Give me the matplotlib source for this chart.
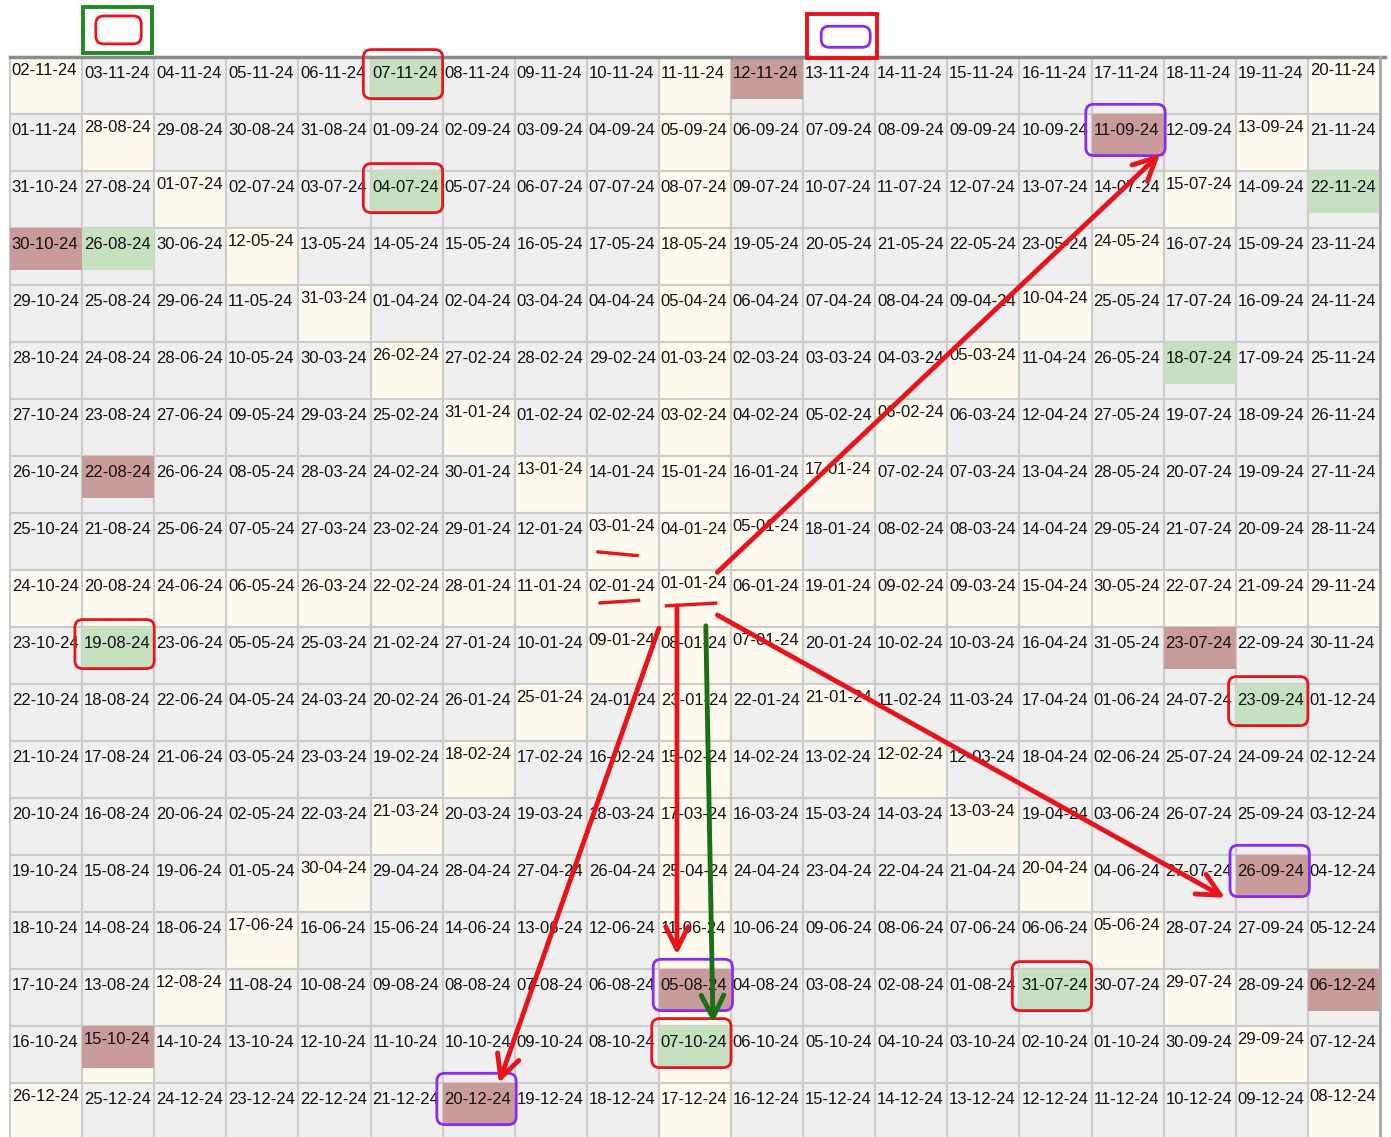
import matplotlib.pyplot as plt
from matplotlib.patches import Rectangle, FancyBboxPatch

# spiral calendar grid, one string per row (19 x 19)
grid_rows = [
    "02-11-24 03-11-24 04-11-24 05-11-24 06-11-24 07-11-24 08-11-24 09-11-24 10-11-24 11-11-24 12-11-24 13-11-24 14-11-24 15-11-24 16-11-24 17-11-24 18-11-24 19-11-24 20-11-24",
    "01-11-24 28-08-24 29-08-24 30-08-24 31-08-24 01-09-24 02-09-24 03-09-24 04-09-24 05-09-24 06-09-24 07-09-24 08-09-24 09-09-24 10-09-24 11-09-24 12-09-24 13-09-24 21-11-24",
    "31-10-24 27-08-24 01-07-24 02-07-24 03-07-24 04-07-24 05-07-24 06-07-24 07-07-24 08-07-24 09-07-24 10-07-24 11-07-24 12-07-24 13-07-24 14-07-24 15-07-24 14-09-24 22-11-24",
    "30-10-24 26-08-24 30-06-24 12-05-24 13-05-24 14-05-24 15-05-24 16-05-24 17-05-24 18-05-24 19-05-24 20-05-24 21-05-24 22-05-24 23-05-24 24-05-24 16-07-24 15-09-24 23-11-24",
    "29-10-24 25-08-24 29-06-24 11-05-24 31-03-24 01-04-24 02-04-24 03-04-24 04-04-24 05-04-24 06-04-24 07-04-24 08-04-24 09-04-24 10-04-24 25-05-24 17-07-24 16-09-24 24-11-24",
    "28-10-24 24-08-24 28-06-24 10-05-24 30-03-24 26-02-24 27-02-24 28-02-24 29-02-24 01-03-24 02-03-24 03-03-24 04-03-24 05-03-24 11-04-24 26-05-24 18-07-24 17-09-24 25-11-24",
    "27-10-24 23-08-24 27-06-24 09-05-24 29-03-24 25-02-24 31-01-24 01-02-24 02-02-24 03-02-24 04-02-24 05-02-24 06-02-24 06-03-24 12-04-24 27-05-24 19-07-24 18-09-24 26-11-24",
    "26-10-24 22-08-24 26-06-24 08-05-24 28-03-24 24-02-24 30-01-24 13-01-24 14-01-24 15-01-24 16-01-24 17-01-24 07-02-24 07-03-24 13-04-24 28-05-24 20-07-24 19-09-24 27-11-24",
    "25-10-24 21-08-24 25-06-24 07-05-24 27-03-24 23-02-24 29-01-24 12-01-24 03-01-24 04-01-24 05-01-24 18-01-24 08-02-24 08-03-24 14-04-24 29-05-24 21-07-24 20-09-24 28-11-24",
    "24-10-24 20-08-24 24-06-24 06-05-24 26-03-24 22-02-24 28-01-24 11-01-24 02-01-24 01-01-24 06-01-24 19-01-24 09-02-24 09-03-24 15-04-24 30-05-24 22-07-24 21-09-24 29-11-24",
    "23-10-24 19-08-24 23-06-24 05-05-24 25-03-24 21-02-24 27-01-24 10-01-24 09-01-24 08-01-24 07-01-24 20-01-24 10-02-24 10-03-24 16-04-24 31-05-24 23-07-24 22-09-24 30-11-24",
    "22-10-24 18-08-24 22-06-24 04-05-24 24-03-24 20-02-24 26-01-24 25-01-24 24-01-24 23-01-24 22-01-24 21-01-24 11-02-24 11-03-24 17-04-24 01-06-24 24-07-24 23-09-24 01-12-24",
    "21-10-24 17-08-24 21-06-24 03-05-24 23-03-24 19-02-24 18-02-24 17-02-24 16-02-24 15-02-24 14-02-24 13-02-24 12-02-24 12-03-24 18-04-24 02-06-24 25-07-24 24-09-24 02-12-24",
    "20-10-24 16-08-24 20-06-24 02-05-24 22-03-24 21-03-24 20-03-24 19-03-24 18-03-24 17-03-24 16-03-24 15-03-24 14-03-24 13-03-24 19-04-24 03-06-24 26-07-24 25-09-24 03-12-24",
    "19-10-24 15-08-24 19-06-24 01-05-24 30-04-24 29-04-24 28-04-24 27-04-24 26-04-24 25-04-24 24-04-24 23-04-24 22-04-24 21-04-24 20-04-24 04-06-24 27-07-24 26-09-24 04-12-24",
    "18-10-24 14-08-24 18-06-24 17-06-24 16-06-24 15-06-24 14-06-24 13-06-24 12-06-24 11-06-24 10-06-24 09-06-24 08-06-24 07-06-24 06-06-24 05-06-24 28-07-24 27-09-24 05-12-24",
    "17-10-24 13-08-24 12-08-24 11-08-24 10-08-24 09-08-24 08-08-24 07-08-24 06-08-24 05-08-24 04-08-24 03-08-24 02-08-24 01-08-24 31-07-24 30-07-24 29-07-24 28-09-24 06-12-24",
    "16-10-24 15-10-24 14-10-24 13-10-24 12-10-24 11-10-24 10-10-24 09-10-24 08-10-24 07-10-24 06-10-24 05-10-24 04-10-24 03-10-24 02-10-24 01-10-24 30-09-24 29-09-24 07-12-24",
    "26-12-24 25-12-24 24-12-24 23-12-24 22-12-24 21-12-24 20-12-24 19-12-24 18-12-24 17-12-24 16-12-24 15-12-24 14-12-24 13-12-24 12-12-24 11-12-24 10-12-24 09-12-24 08-12-24",
]
cells = [r.split() for r in grid_rows]

green_days = ['07-11-24', '04-07-24', '26-08-24', '22-11-24', '18-07-24',
              '19-08-24', '23-09-24', '31-07-24', '07-10-24']
red_days = ['12-11-24', '11-09-24', '30-10-24', '22-08-24', '23-07-24',
            '26-09-24', '05-08-24', '06-12-24', '15-10-24', '20-12-24']
red_boxed = ['07-11-24', '04-07-24', '19-08-24', '23-09-24', '31-07-24', '07-10-24']
purple_boxed = ['11-09-24', '26-09-24', '05-08-24', '20-12-24']

GRAY = '#efefef'
CREAM = '#fefaee'
GREEN = '#c6e1c0'
BROWN = '#c99b9b'
RED = '#e8141c'
PURPLE = '#8a2cf0'
DKGREEN = '#1a6e14'

W, H = 1391, 1137
cw = (1380 - 10) / 19   # cell width in px
ch = 57                 # cell height in px

fig = plt.figure(figsize=(W / 100, H / 100), dpi=100)
ax = fig.add_axes([0, 0, 1, 1])
ax.set_xlim(-10 / cw, 19 + 11 / cw)
ax.set_ylim(19 - 3 / ch, -57 / ch)
ax.axis('off')

pos = {}
for r, row in enumerate(cells):
    for c, d in enumerate(row):
        pos[d] = (c, r)
        diag = (r == c) or (r + c == 18)
        bg = CREAM if (diag or r == 9 or c == 9) else GRAY
        ax.add_patch(Rectangle((c, r), 1, 1, fc=bg, ec='#cccccc', lw=1.5, zorder=1))

for d in green_days:
    c, r = pos[d]
    ax.add_patch(Rectangle((c, r), 1, 0.74, fc=GREEN, ec='none', zorder=2))
for d in red_days:
    c, r = pos[d]
    ax.add_patch(Rectangle((c, r), 1, 0.74, fc=BROWN, ec='none', zorder=2))

for r, row in enumerate(cells):
    for c, d in enumerate(row):
        dy = 0.10 if (r == c or r + c == 18) else 0.15
        ax.text(c + 0.025, r + dy, d, ha='left', va='top', fontsize=12,
                family='Liberation Sans', color='#111111', zorder=3)

# outer borders
ax.plot([0, 19 + 5 / cw], [0, 0], color='#8c8c8c', lw=2.5, zorder=4)
ax.plot([19, 19], [0, 19], color='#a8a8a8', lw=2, zorder=4)

asp = cw / ch
def rbox(x, y, w, h, color, lw=2.0, r=0.11):
    ax.add_patch(FancyBboxPatch((x, y), w, h, boxstyle=f'round,pad=0,rounding_size={r}',
                                mutation_aspect=asp, fill=False, ec=color, lw=lw, zorder=5))

for d in red_boxed:
    c, r = pos[d]
    rbox(c - 0.1, r - 0.13, 1.1, 0.86, RED)
for d in purple_boxed:
    c, r = pos[d]
    rbox(c - 0.08, r - 0.17, 1.1, 0.9, PURPLE)

# legend boxes at top
ax.add_patch(Rectangle((1.01, -0.88), 0.96, 0.81, fill=False, ec='#1f8a1f', lw=2.8, zorder=5))
rbox(1.19, -0.72, 0.63, 0.49, RED)
ax.add_patch(Rectangle((11.05, -0.75), 0.97, 0.77, fill=False, ec=RED, lw=2.8, zorder=5))
rbox(11.25, -0.54, 0.68, 0.37, PURPLE)

# hand-drawn strokes around 01-01-24
strokes = [((8.13, 8.68), (8.72, 8.75)),
           ((8.16, 9.58), (8.74, 9.53)),
           ((9.08, 9.63), (9.81, 9.58))]
for (x0, y0), (x1, y1) in strokes:
    ax.plot([x0, x1], [y0, y1], color=RED, lw=2.4, solid_capstyle='butt', zorder=6)

arrows = [((9.81, 9.04), (15.95, 1.70), RED),
          ((9.00, 10.02), (6.78, 18.0), RED),
          ((9.25, 9.63), (9.25, 15.75), RED),
          ((9.81, 9.79), (16.85, 14.75), RED),
          ((9.65, 9.98), (9.75, 16.95), DKGREEN)]
for start, tip, col in arrows:
    ax.annotate('', xy=tip, xytext=start, zorder=6,
                arrowprops=dict(arrowstyle='->,head_length=0.9,head_width=0.45',
                                color=col, lw=3.5, shrinkA=0, shrinkB=0,
                                mutation_scale=18))

plt.savefig('out.png', dpi=100)
